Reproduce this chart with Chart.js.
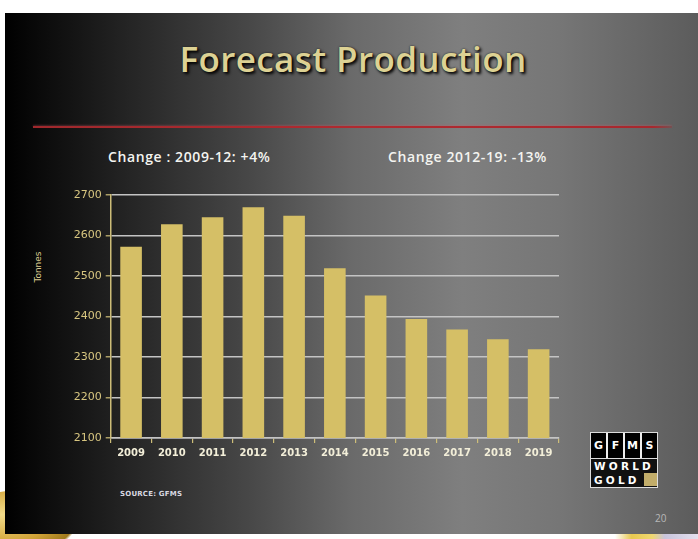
<!DOCTYPE html>
<html>
<head>
<meta charset="utf-8">
<script src="https://cdn.jsdelivr.net/npm/chart.js@4"></script>
<style>
  html, body { margin: 0; padding: 0; background: #fff; }
  body { width: 698px; height: 539px; position: relative; overflow: hidden; }
  .swirl-left {
    position: absolute; left: -40px; top: 490px; width: 120px; height: 70px;
    border-radius: 50%;
    background: radial-gradient(ellipse at 35% 35%, #f3dc8a 0%, #d2a438 45%, #a07a1c 68%, rgba(255,255,255,0) 71%);
  }
  .slide {
    position: absolute; left: 5px; top: 13px; width: 693px; height: 521px;
    background: linear-gradient(to right, #000 0%, #222 16.6%, #474747 35%, #6a6a6a 50%, #7f7f7f 66%, #767676 80%, #5c5c5c 100%);
  }
  .swirl-right {
    position: absolute; left: 615px; top: 534px; width: 83px; height: 5px;
    background: linear-gradient(to right, #fff 0%, #e8c850 20%, #f0d870 45%, #c8c4dc 60%, #e4e0ee 100%);
  }
  .title {
    position: absolute; left: 0; width: 706px; top: 35px; text-align: center;
    font-family: "Open Sans", sans-serif; font-weight: 600; font-size: 35px; color: #ddd294;
    letter-spacing: 0.4px;
    text-shadow: 2px 2px 3px #000, 0 0 2px #222;
  }
  .rule {
    position: absolute; left: 33px; top: 126px; width: 639px; height: 2px;
    background: linear-gradient(to right, #a0282c 0%, #b02a30 50%, #a8282e 97%, rgba(168,40,46,0.3) 100%);
    box-shadow: 0 -1px 2px rgba(200,90,100,0.35);
  }
  .note {
    position: absolute; top: 147px; font-family: "Open Sans", sans-serif;
    font-weight: 600; font-size: 14px; letter-spacing: 0.6px; color: #f4f4f0; white-space: nowrap;
  }
  .yname {
    position: absolute; left: 18px; top: 262px; width: 40px; text-align: center;
    transform: rotate(-90deg); font-family: "DejaVu Sans", sans-serif;
    font-size: 9px; color: #dccc90;
  }
  .source {
    position: absolute; left: 120px; top: 490px; font-family: "DejaVu Sans", sans-serif;
    font-weight: bold; font-size: 7px; color: #d8d8e0; letter-spacing: 0.2px;
  }
  .page {
    position: absolute; left: 655px; top: 511px; font-family: "Open Sans", sans-serif;
    font-size: 10px; color: #b8b8b8;
  }
  .logo {
    position: absolute; left: 590px; top: 432px; width: 66px; height: 54px;
    border: 1px solid #ddd; background: #111;
    font-family: "DejaVu Sans", sans-serif; font-weight: bold; color: #fff;
  }
  .logo .row1 { display: flex; height: 25px; border-bottom: 1px solid #ddd; }
  .logo .row1 span {
    flex: 1; text-align: center; line-height: 25px; font-size: 11px;
    border-right: 2px solid #eee; background: #000;
  }
  .logo .row1 span:last-child { border-right: none; }
  .logo .row2, .logo .row3 {
    height: 14px; line-height: 14px; font-size: 10.5px; letter-spacing: 3.2px; padding-left: 3px;
  }
  .logo .row3 { position: relative; }
  .logo .gold {
    position: absolute; right: 0; top: 0; width: 13px; height: 13px; background: #c2ad6a;
  }
  canvas { position: absolute; left: 0; top: 0; }
</style>
</head>
<body>
<div class="swirl-left"></div>
<div class="slide"></div>
<div class="swirl-right"></div>
<div class="title">Forecast Production</div>
<div class="rule"></div>
<div class="note" style="left:108px">Change : 2009-12: +4%</div>
<div class="note" style="left:388px">Change 2012-19: -13%</div>
<div class="yname">Tonnes</div>
<div class="source">SOURCE: GFMS</div>
<div class="page">20</div>
<div class="logo">
  <div class="row1"><span>G</span><span>F</span><span>M</span><span>S</span></div>
  <div class="row2">WORLD</div>
  <div class="row3">GOLD<div class="gold"></div></div>
</div>
<canvas id="prodChart" width="698" height="539"></canvas>
<script>
// mine production forecast, tonnes
const years = ['2009', '2010', '2011', '2012', '2013', '2014', '2015', '2016', '2017', '2018', '2019'];
const tonnes = [2572, 2628, 2645, 2670, 2649, 2519, 2452, 2394, 2368, 2344, 2319];
const yMin = 2100;
const yMax = 2700;
const yStep = 100;

const gold = '#d5bf66';
const axisGold = '#cdbd78';
const gridGrey = '#c4c4c4';

const ctx = document.getElementById('prodChart').getContext('2d');

new Chart(ctx, {
    type: 'bar',
    data: {
        labels: years,
        datasets: [{
            label: 'Tonnes',
            data: tonnes,
            backgroundColor: gold,
            borderWidth: 0,
            barPercentage: 0.53,
            categoryPercentage: 1
        }]
    },
    options: {
        responsive: false,
        animation: false,
        layout: {
            padding: { left: 28, right: 139, top: 195, bottom: 71 }
        },
        plugins: {
            legend: { display: false },
            tooltip: { enabled: false }
        },
        scales: {
            x: {
                afterFit: (scale) => { scale.height = 30; },
                border: { display: true, color: gridGrey, width: 1.5 },
                grid: {
                    offset: true,
                    drawOnChartArea: false,
                    drawTicks: true,
                    tickLength: 5,
                    color: axisGold,
                    lineWidth: 1.2
                },
                ticks: {
                    color: '#f2eed8',
                    padding: 4,
                    maxRotation: 0,
                    font: { family: 'DejaVu Sans', size: 10, weight: 'bold' }
                }
            },
            y: {
                min: yMin,
                max: yMax,
                afterFit: (scale) => { scale.width = 82.7; },
                border: { display: true, color: axisGold, width: 1.5 },
                grid: {
                    color: gridGrey,
                    lineWidth: 1.6,
                    tickLength: 5,
                    tickColor: axisGold,
                    tickWidth: 1.2
                },
                ticks: {
                    stepSize: yStep,
                    color: '#d8c680',
                    padding: 4,
                    // plain numbers, no thousands separator
                    callback: (value) => String(value),
                    font: { family: 'DejaVu Sans', size: 11 }
                }
            }
        }
    }
});
</script>
</body>
</html>
